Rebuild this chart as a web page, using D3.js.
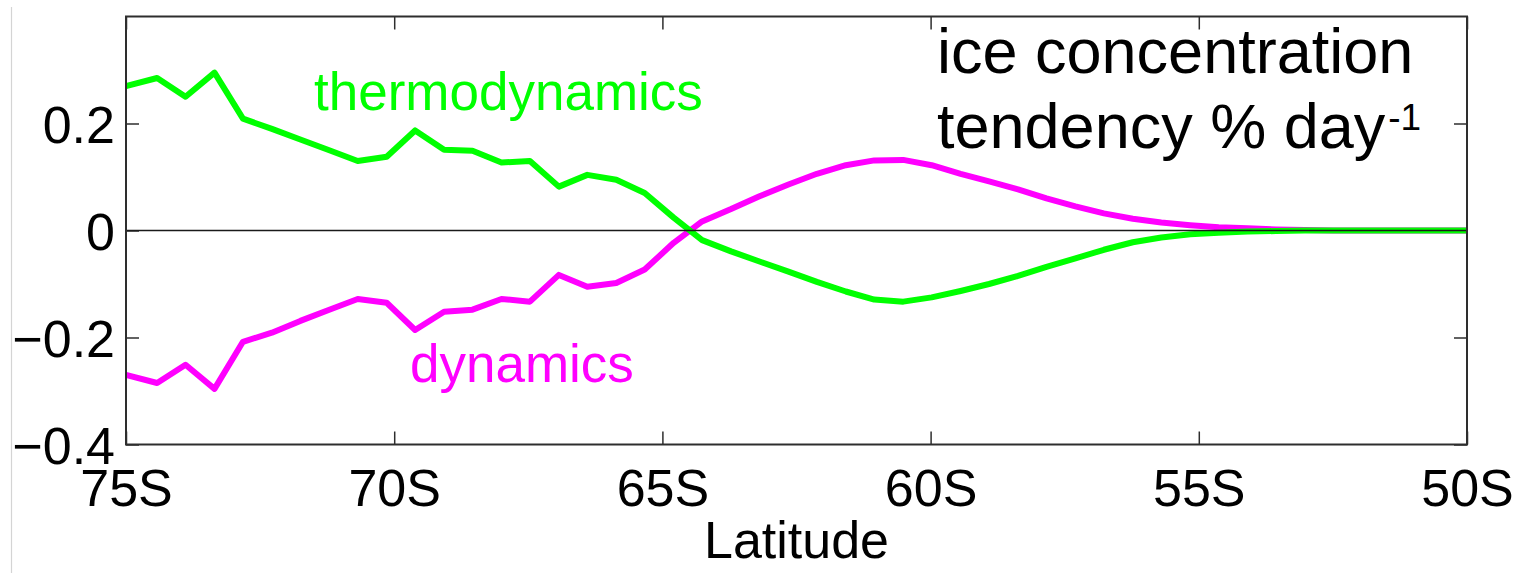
<!DOCTYPE html>
<html>
<head>
<meta charset="utf-8">
<script src="https://cdn.jsdelivr.net/npm/d3@7"></script>
<style>
  html, body { margin: 0; padding: 0; background: #fff; }
  svg { display: block; font-family: "Liberation Sans", Arial, Helvetica, sans-serif; }
</style>
</head>
<body>
<svg id="chart" width="1536" height="573"></svg>
<script>
// Latitude grid (degrees south)
const latitude = [
  75.00, 74.42, 73.89, 73.35, 72.82, 72.28, 71.75, 71.21, 70.68, 70.14,
  69.61, 69.07, 68.54, 68.00, 67.47, 66.93, 66.40, 65.86, 65.33, 64.79,
  64.26, 63.72, 63.19, 62.65, 62.12, 61.58, 61.05, 60.51, 59.98, 59.44,
  58.91, 58.37, 57.84, 57.30, 56.77, 56.23, 55.70, 55.16, 54.63, 54.09,
  53.56, 53.02, 52.49, 51.95, 51.42, 50.88, 50.35, 50.00
];

// Ice concentration tendency, % per day
const thermodynamics = [
  0.270, 0.285, 0.250, 0.295, 0.209, 0.190, 0.170, 0.150, 0.130, 0.138,
  0.187, 0.151, 0.149, 0.127, 0.130, 0.082, 0.104, 0.095, 0.070, 0.024,
  -0.018, -0.039, -0.058, -0.077, -0.096, -0.114, -0.129, -0.133, -0.125, -0.113,
  -0.100, -0.085, -0.068, -0.052, -0.036, -0.022, -0.013, -0.007, -0.004, -0.002,
  -0.001, 0, 0, 0, 0, 0, 0, 0
];

const dynamics = [
  -0.270, -0.285, -0.251, -0.296, -0.208, -0.191, -0.169, -0.148, -0.128, -0.135,
  -0.186, -0.152, -0.148, -0.128, -0.133, -0.083, -0.105, -0.098, -0.073, -0.023,
  0.017, 0.040, 0.064, 0.086, 0.106, 0.122, 0.131, 0.132, 0.122, 0.106,
  0.092, 0.077, 0.060, 0.045, 0.032, 0.022, 0.015, 0.010, 0.006, 0.004,
  0.002, 0.001, 0, 0, 0, 0, 0, 0
];

const xTicks = [75, 70, 65, 60, 55, 50];
const yTicks = [-0.4, -0.2, 0, 0.2];

const svg = d3.select("#chart");
const plotLeft = 126, plotRight = 1467, plotTop = 16.5, plotBottom = 444.5;

const x = d3.scaleLinear().domain([75, 50]).range([plotLeft, plotRight]);
const y = d3.scaleLinear().domain([-0.4, 0.4]).range([plotBottom, plotTop]);

// faint page edge on the far left
svg.append("line")
  .attr("x1", 11.5).attr("x2", 11.5).attr("y1", 7).attr("y2", 573)
  .attr("stroke", "#d4d4d4").attr("stroke-width", 1.2);

const fmtY = d => d === 0 ? "0" : d3.format(".1f")(d);
const frameColor = "#2e2e2e";

// bottom axis with labels
const gx = svg.append("g").attr("transform", `translate(0,${plotBottom})`)
  .call(d3.axisBottom(x).tickValues(xTicks).tickSize(-13).tickPadding(25)
    .tickFormat(d => d + "S"));
// top axis ticks only
const gxt = svg.append("g").attr("transform", `translate(0,${plotTop})`)
  .call(d3.axisTop(x).tickValues(xTicks).tickSize(-13).tickFormat(""));
// left axis with labels
const gy = svg.append("g").attr("transform", `translate(${plotLeft},0)`)
  .call(d3.axisLeft(y).tickValues(yTicks).tickSize(-13).tickPadding(11).tickFormat(fmtY));
// right axis ticks only
const gyr = svg.append("g").attr("transform", `translate(${plotRight},0)`)
  .call(d3.axisRight(y).tickValues(yTicks).tickSize(-13).tickFormat(""));

[gx, gxt, gy, gyr].forEach(g => {
  g.select(".domain").remove();
  g.selectAll(".tick line").attr("stroke", frameColor).attr("stroke-width", 1.5);
  g.selectAll("text").attr("font-size", 52).attr("fill", "#000")
    .attr("font-family", "'Liberation Sans', Arial, Helvetica, sans-serif");
});
gy.selectAll("text").attr("dy", "0.37em");

// data lines
svg.append("clipPath").attr("id", "plot-clip")
  .append("rect").attr("x", plotLeft).attr("y", plotTop)
  .attr("width", plotRight - plotLeft).attr("height", plotBottom - plotTop);

const line = d3.line().x(d => x(d[0])).y(d => y(d[1]));
const plot = svg.append("g").attr("clip-path", "url(#plot-clip)");

plot.append("path")
  .datum(d3.zip(latitude, dynamics))
  .attr("d", line)
  .attr("fill", "none").attr("stroke", "#ff00ff")
  .attr("stroke-width", 6).attr("stroke-linejoin", "round");

plot.append("path")
  .datum(d3.zip(latitude, thermodynamics))
  .attr("d", line)
  .attr("fill", "none").attr("stroke", "#00ff00")
  .attr("stroke-width", 6).attr("stroke-linejoin", "round");

// zero line
svg.append("line")
  .attr("x1", plotLeft).attr("x2", plotRight).attr("y1", y(0)).attr("y2", y(0))
  .attr("stroke", "#1a1a1a").attr("stroke-width", 1.6);

// frame
svg.append("rect")
  .attr("x", plotLeft).attr("y", plotTop)
  .attr("width", plotRight - plotLeft).attr("height", plotBottom - plotTop)
  .attr("fill", "none").attr("stroke", frameColor).attr("stroke-width", 2);

// axis title
svg.append("text")
  .attr("x", (plotLeft + plotRight) / 2).attr("y", 558)
  .attr("text-anchor", "middle").attr("font-size", 52).attr("fill", "#000")
  .text("Latitude");

// series labels
svg.append("text")
  .attr("x", 314).attr("y", 110)
  .attr("font-size", 53).attr("fill", "#00ff00")
  .text("thermodynamics");
svg.append("text")
  .attr("x", 410).attr("y", 382)
  .attr("font-size", 53).attr("fill", "#ff00ff")
  .text("dynamics");

// quantity annotation
svg.append("text")
  .attr("x", 937).attr("y", 73)
  .attr("font-size", 63).attr("fill", "#000")
  .text("ice concentration");
const t2 = svg.append("text")
  .attr("x", 937).attr("y", 148)
  .attr("font-size", 63).attr("fill", "#000");
t2.append("tspan").text("tendency % day");
t2.append("tspan").attr("font-size", 37).attr("dx", 3).attr("dy", -18).text("-1");
</script>
</body>
</html>
